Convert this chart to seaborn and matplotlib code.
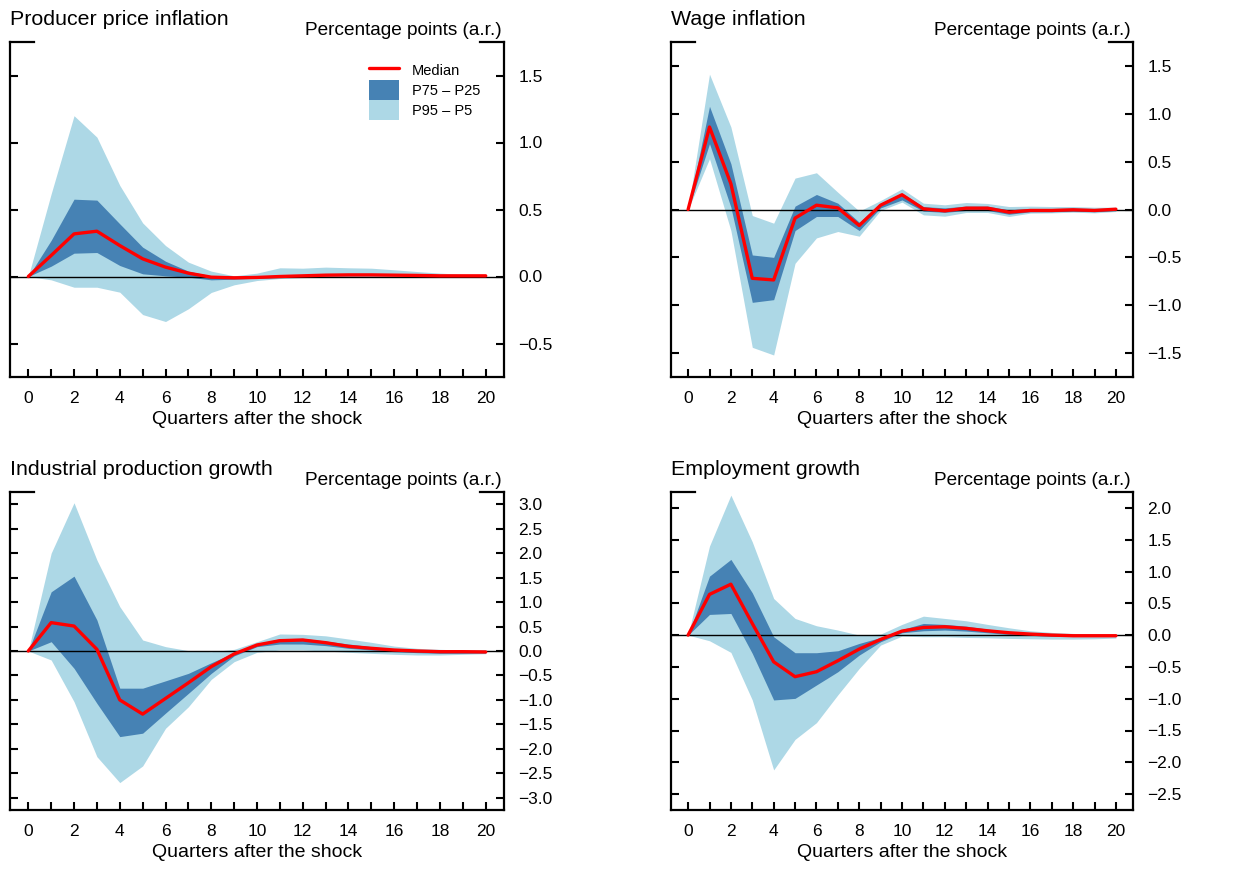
import numpy as np
import pandas as pd
import matplotlib
matplotlib.use("Agg")
import matplotlib.pyplot as plt
import seaborn as sns
from matplotlib.lines import Line2D
from matplotlib.patches import Patch
from matplotlib.ticker import FuncFormatter

quarters = list(range(21))

ppi_median = [0, 0.157, 0.318, 0.338, 0.231, 0.132, 0.07, 0.025, -0.005, -0.01, -0.007, 0.0, 0.005, 0.01, 0.012, 0.012, 0.01, 0.008, 0.005, 0.005, 0.005]
ppi_p75 = [0, 0.27, 0.577, 0.57, 0.393, 0.219, 0.114, 0.04, 0.005, 0.0, 0.002, 0.008, 0.012, 0.016, 0.018, 0.018, 0.016, 0.013, 0.01, 0.009, 0.008]
ppi_p25 = [0, 0.077, 0.174, 0.179, 0.082, 0.02, 0.005, -0.005, -0.025, -0.02, -0.013, -0.007, -0.002, 0.003, 0.005, 0.006, 0.005, 0.004, 0.002, 0.002, 0.002]
ppi_p95 = [0, 0.617, 1.20, 1.04, 0.68, 0.40, 0.231, 0.107, 0.04, 0.005, 0.025, 0.065, 0.062, 0.07, 0.065, 0.062, 0.05, 0.037, 0.025, 0.017, 0.015]
ppi_p5 = [0, -0.025, -0.08, -0.08, -0.117, -0.284, -0.336, -0.241, -0.119, -0.062, -0.03, -0.015, -0.008, -0.005, -0.004, -0.004, -0.003, -0.003, -0.003, -0.003, -0.003]

wage_median = [0, 0.862, 0.269, -0.719, -0.736, -0.09, 0.045, 0.017, -0.167, 0.045, 0.154, 0.007, -0.014, 0.014, 0.014, -0.028, -0.01, -0.01, -0.003, -0.01, 0.003]
wage_p75 = [0, 1.078, 0.478, -0.475, -0.5, 0.035, 0.157, 0.066, -0.133, 0.066, 0.171, 0.03, 0.017, 0.035, 0.035, -0.003, 0.01, 0.01, 0.014, 0.01, 0.014]
wage_p25 = [0, 0.688, 0.024, -0.97, -0.942, -0.22, -0.073, -0.073, -0.22, 0.017, 0.10, -0.017, -0.03, -0.01, -0.01, -0.05, -0.024, -0.024, -0.017, -0.024, -0.01]
wage_p95 = [0, 1.414, 0.862, -0.063, -0.143, 0.328, 0.384, 0.18, -0.017, 0.094, 0.216, 0.066, 0.049, 0.073, 0.063, 0.031, 0.035, 0.031, 0.031, 0.024, 0.024]
wage_p5 = [0, 0.531, -0.22, -1.44, -1.52, -0.562, -0.297, -0.23, -0.279, -0.01, 0.077, -0.056, -0.07, -0.031, -0.031, -0.073, -0.038, -0.035, -0.028, -0.035, -0.021]

ip_median = [0, 0.58, 0.51, 0.034, -1.0, -1.29, -0.97, -0.65, -0.32, -0.06, 0.123, 0.211, 0.225, 0.17, 0.095, 0.055, 0.02, 0.0, -0.014, -0.014, -0.02]
ip_p75 = [0, 1.21, 1.53, 0.634, -0.76, -0.76, -0.61, -0.457, -0.24, -0.034, 0.143, 0.252, 0.259, 0.204, 0.143, 0.089, 0.04, 0.02, 0.007, 0.0, 0.0]
ip_p25 = [0, 0.19, -0.354, -1.07, -1.75, -1.68, -1.27, -0.866, -0.457, -0.1, 0.089, 0.143, 0.143, 0.11, 0.055, 0.02, -0.014, -0.034, -0.048, -0.048, -0.041]
ip_p95 = [0, 2.0, 3.03, 1.86, 0.907, 0.225, 0.089, 0.007, -0.014, 0.034, 0.19, 0.348, 0.34, 0.31, 0.245, 0.177, 0.10, 0.055, 0.034, 0.02, 0.02]
ip_p5 = [0, -0.184, -1.036, -2.16, -2.69, -2.35, -1.58, -1.14, -0.58, -0.218, -0.027, 0.02, 0.02, 0.0, -0.027, -0.048, -0.068, -0.082, -0.082, -0.068, -0.055]

emp_median = [0, 0.64, 0.80, 0.183, -0.42, -0.654, -0.576, -0.403, -0.22, -0.068, 0.063, 0.12, 0.131, 0.105, 0.068, 0.037, 0.016, 0.0, -0.01, -0.01, -0.01]
emp_p75 = [0, 0.927, 1.19, 0.665, -0.026, -0.277, -0.277, -0.246, -0.131, -0.037, 0.089, 0.183, 0.168, 0.141, 0.094, 0.052, 0.026, 0.01, 0.005, 0.0, 0.0]
emp_p25 = [0, 0.325, 0.34, -0.288, -1.02, -0.995, -0.785, -0.576, -0.314, -0.105, 0.037, 0.068, 0.079, 0.063, 0.037, 0.01, -0.005, -0.016, -0.021, -0.021, -0.021]
emp_p95 = [0, 1.40, 2.2, 1.466, 0.576, 0.262, 0.147, 0.079, 0.0, 0.016, 0.168, 0.298, 0.262, 0.225, 0.168, 0.115, 0.068, 0.042, 0.026, 0.016, 0.01]
emp_p5 = [0, -0.089, -0.272, -1.02, -2.12, -1.64, -1.377, -0.94, -0.524, -0.157, -0.016, -0.026, -0.026, -0.037, -0.042, -0.052, -0.058, -0.063, -0.063, -0.058, -0.047]

titles = ["Producer price inflation", "Wage inflation",
          "Industrial production growth", "Employment growth"]
unit_label = "Percentage points (a.r.)"
x_label = "Quarters after the shock"
legend_labels = ["Median", "P75 \u2013 P25", "P95 \u2013 P5"]

ppi_yticks = [-0.5, 0.0, 0.5, 1.0, 1.5]
wage_yticks = [-1.5, -1.0, -0.5, 0.0, 0.5, 1.0, 1.5]
ip_yticks = [-3.0, -2.5, -2.0, -1.5, -1.0, -0.5, 0.0, 0.5, 1.0, 1.5, 2.0, 2.5, 3.0]
emp_yticks = [-2.5, -2.0, -1.5, -1.0, -0.5, 0.0, 0.5, 1.0, 1.5, 2.0]

DARK = "#4682B4"
LIGHT = "#ADD8E6"

sns.set_theme(style="white")
plt.rcParams['font.family'] = ['Liberation Sans', 'DejaVu Sans']
plt.rcParams['axes.unicode_minus'] = True
for k in ["text.color", "axes.labelcolor", "xtick.color", "ytick.color", "axes.edgecolor"]:
    plt.rcParams[k] = "black"

W, H = 1258, 869
fig = plt.figure(figsize=(W / 100, H / 100), dpi=100)
fig.patch.set_facecolor("white")


def add_axes(l, t, r, b):
    return fig.add_axes([l / W, 1 - b / H, (r - l) / W, (b - t) / H])


panels = [
    (titles[0], ppi_median, ppi_p75, ppi_p25, ppi_p95, ppi_p5, ppi_yticks, (-0.75, 1.75), (10, 42, 504, 377)),
    (titles[1], wage_median, wage_p75, wage_p25, wage_p95, wage_p5, wage_yticks, (-1.75, 1.75), (671, 42, 1133, 377)),
    (titles[2], ip_median, ip_p75, ip_p25, ip_p95, ip_p5, ip_yticks, (-3.25, 3.25), (10, 492, 504, 810)),
    (titles[3], emp_median, emp_p75, emp_p25, emp_p95, emp_p5, emp_yticks, (-2.75, 2.25), (671, 492, 1133, 810)),
]

fmt = FuncFormatter(lambda v, p: f"{v:.1f}".replace("-", "\u2212"))

for i, (title, med, p75, p25, p95, p5, yt, ylim, box) in enumerate(panels):
    ax = add_axes(*box)
    ax.set_facecolor("white")
    ax.fill_between(quarters, p5, p95, color=LIGHT, lw=0, zorder=1)
    ax.fill_between(quarters, p25, p75, color=DARK, lw=0, zorder=2)
    ax.axhline(0, color="black", lw=1.0, zorder=3)
    df = pd.DataFrame({"q": quarters, "v": med})
    sns.lineplot(data=df, x="q", y="v", ax=ax, color="red", lw=2.4, zorder=4)

    ax.set_xlim(-0.8, 20.8)
    ax.set_ylim(*ylim)
    ax.set_xticks(quarters)
    ax.set_xticklabels([str(q) if q % 2 == 0 else "" for q in quarters])
    ax.set_yticks(yt)
    ax.yaxis.set_major_formatter(fmt)
    ax.tick_params(axis="x", direction="in", length=6, width=1.5, bottom=True, top=False,
                   labelsize=12.5, pad=10, colors="black")
    ax.tick_params(axis="y", direction="in", length=6, width=1.5, left=True, right=True,
                   labelleft=False, labelright=True, labelsize=12.5, pad=10.5, colors="black")
    for s in ["left", "right", "bottom"]:
        ax.spines[s].set_visible(True)
        ax.spines[s].set_color("black")
        ax.spines[s].set_linewidth(1.6)
    ax.spines["top"].set_visible(False)
    wpx = box[2] - box[0]
    seg = 24 / wpx
    ax.plot([0, seg], [1, 1], transform=ax.transAxes, color="black", lw=1.6,
            clip_on=False, solid_capstyle="projecting")
    ax.plot([1 - seg, 1], [1, 1], transform=ax.transAxes, color="black", lw=1.6,
            clip_on=False, solid_capstyle="projecting")

    ax.set_xlabel(x_label, fontsize=14, labelpad=4, color="black")
    ax.set_ylabel("")
    ax.annotate(title, xy=(0, 1), xycoords="axes fraction", xytext=(0, 17),
                textcoords="offset pixels", ha="left", va="baseline", fontsize=15.4)
    ax.annotate(unit_label, xy=(1, 1), xycoords="axes fraction", xytext=(-2, 7),
                textcoords="offset pixels", ha="right", va="baseline", fontsize=13.7)

    if i == 0:
        handles = [Line2D([0], [0], color="red", lw=2.4),
                   Patch(facecolor=DARK, edgecolor="none"),
                   Patch(facecolor=LIGHT, edgecolor="none")]
        ax.legend(handles, legend_labels, loc="upper left", bbox_to_anchor=(0.727, 0.945),
                  frameon=False, fontsize=10.5, handlelength=2.05, handleheight=1.73,
                  handletextpad=0.9, labelspacing=0.0, borderpad=0, borderaxespad=0)
    else:
        leg = ax.get_legend()
        if leg is not None:
            leg.remove()

fig.savefig("out.png", dpi=100, facecolor="white")
